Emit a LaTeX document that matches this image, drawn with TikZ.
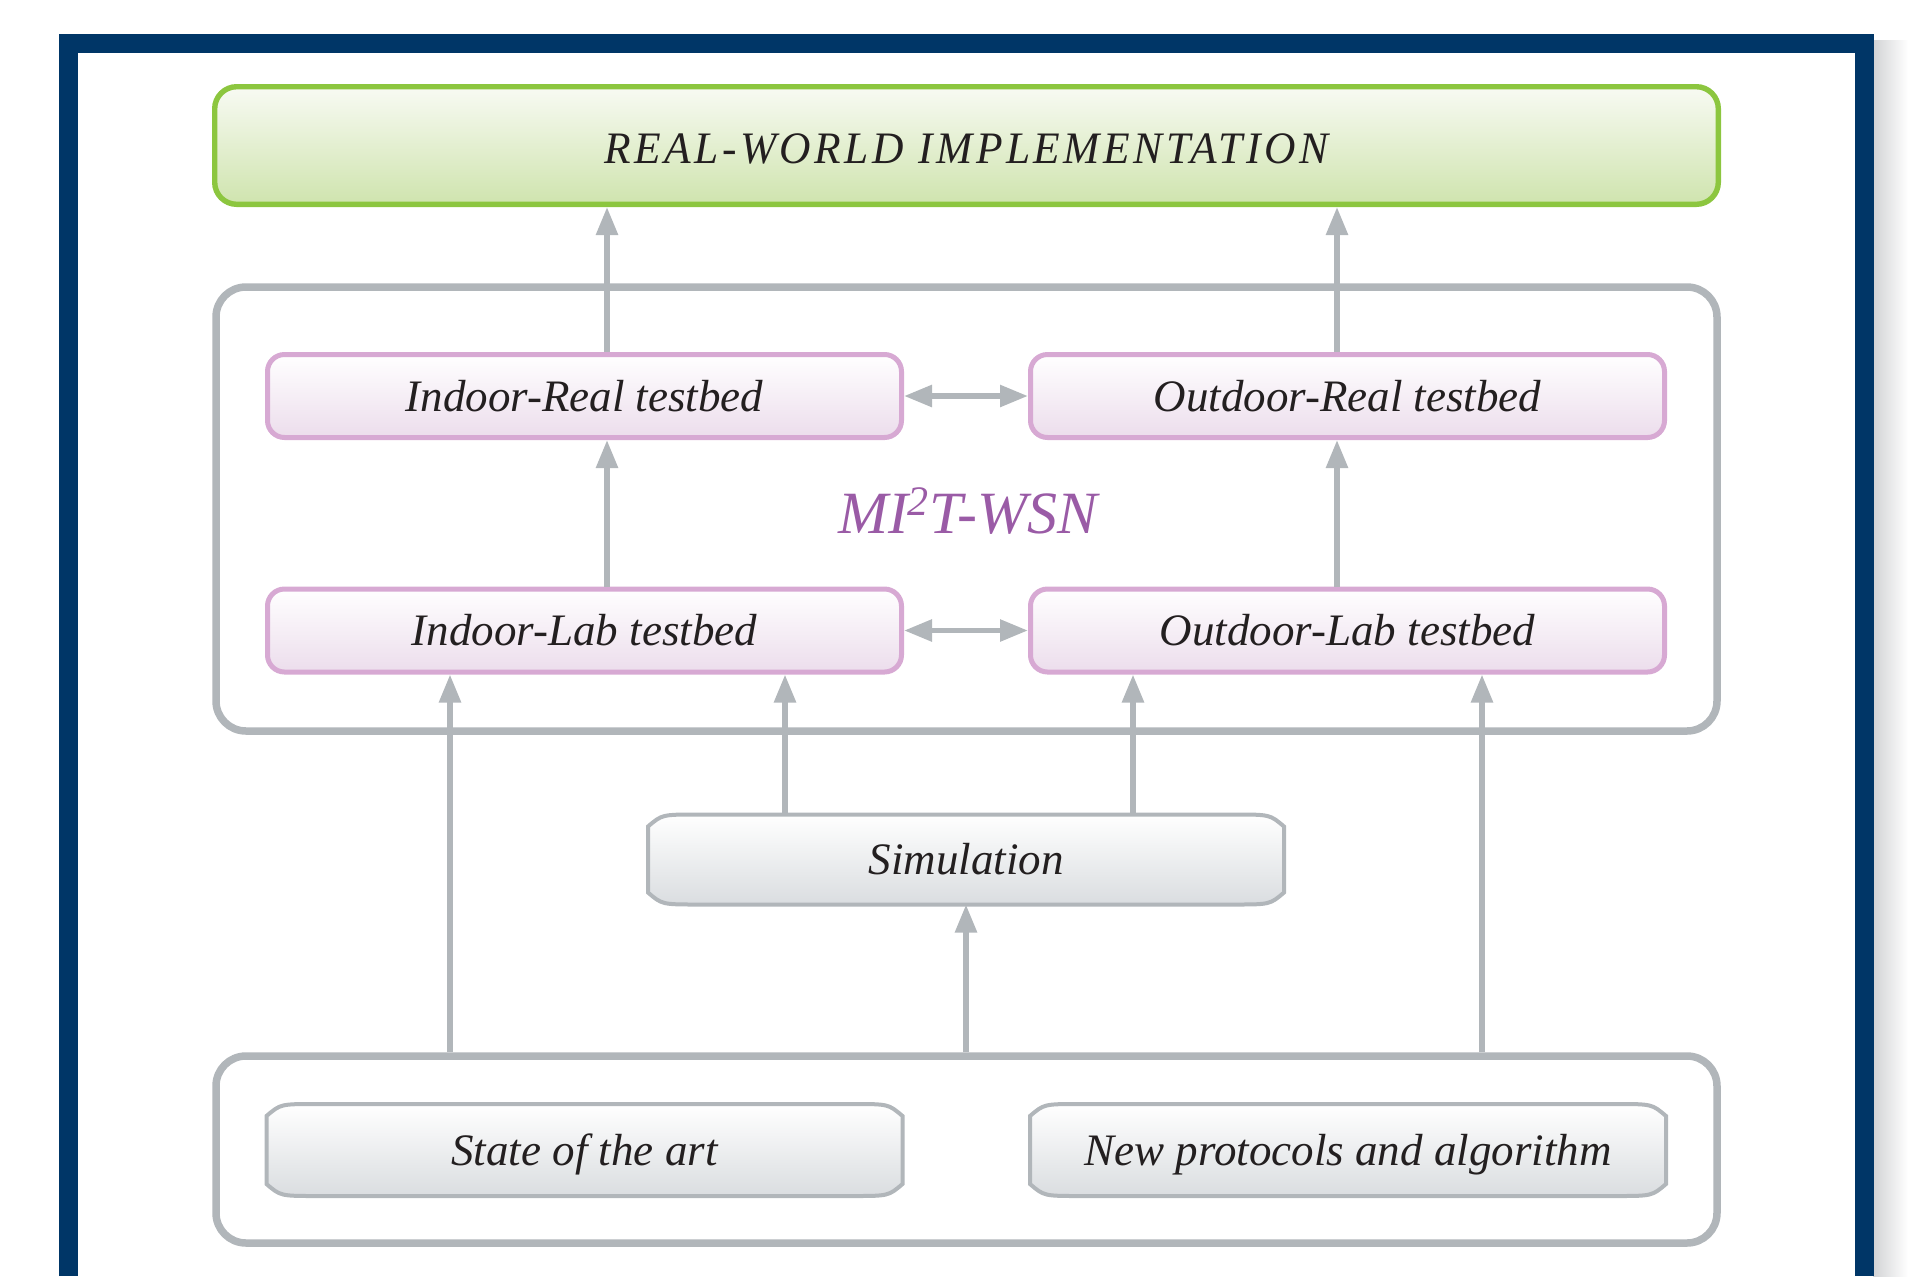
\documentclass[tikz,border=0pt]{standalone}
\usepackage{graphicx}
\usepackage{fontspec}
\setmainfont{Liberation Serif}
\usetikzlibrary{arrows.meta, calc, backgrounds}

\definecolor{framenavy}{HTML}{003667}
\definecolor{shadowgray}{HTML}{D2D3D5}
\definecolor{linegray}{HTML}{B1B6BA}
\definecolor{fillgray}{HTML}{DADDE0}
\definecolor{leafgreen}{HTML}{8CC63F}
\definecolor{greentop}{HTML}{F8FAF3}
\definecolor{greenbottom}{HTML}{CFE4AE}
\definecolor{pinkline}{HTML}{D7A9D3}
\definecolor{pinkbottom}{HTML}{ECDDEC}
\definecolor{wsnpurple}{HTML}{9A5BA6}
\definecolor{inkblack}{HTML}{231F20}

\tikzset{
  boxtext/.style={font=\fontsize{22.5}{27}\selectfont\itshape, text=inkblack, text height=15pt, text depth=0pt},
  realbox/.style={boxtext, draw=leafgreen, line width=2.7pt, rounded corners=11pt, top color=greentop, bottom color=greenbottom, minimum width=751.8pt, minimum height=58.8pt, text height=17.5pt},
  testbed/.style={boxtext, draw=pinkline, line width=2.5pt, rounded corners=8.5pt, top color=white, bottom color=pinkbottom, minimum width=317pt, minimum height=41.5pt},
  holder/.style={draw=linegray, line width=3.75pt, rounded corners=15pt, minimum width=750.5pt},
  scrollbox/.style={boxtext, minimum width=318pt, minimum height=45pt, outer sep=0pt},
  scrollshape/.style={draw=linegray, line width=2pt, top color=white, bottom color=fillgray},
  flow/.style={draw=linegray, line width=2.8pt, -{Triangle[length=14pt,width=10.5pt]}},
  twoway/.style={flow, {Triangle[length=14pt,width=10.5pt]}-{Triangle[length=14pt,width=10.5pt]}},
}

% outline of the boxes with bent corners
\newcommand{\scrollline}[1]{%
  \begin{scope}[on background layer]
    \path[scrollshape] ([yshift=-6pt]#1.north west) .. controls ([xshift=7pt]#1.north west) .. ([xshift=25pt]#1.north west)
      -- ([xshift=-25pt]#1.north east) .. controls ([xshift=-7pt]#1.north east) .. ([yshift=-6pt]#1.north east)
      -- ([yshift=6pt]#1.south east) .. controls ([xshift=-7pt]#1.south east) .. ([xshift=-25pt]#1.south east)
      -- ([xshift=25pt]#1.south west) .. controls ([xshift=7pt]#1.south west) .. ([yshift=6pt]#1.south west) -- cycle;
  \end{scope}}

\begin{document}
\begin{tikzpicture}[x=0.5pt, y=-0.5pt]
    \useasboundingbox (0,0) rectangle (1908,1276);

    % frame
    \fill[left color=shadowgray, right color=white] (1873,40) rectangle (1908,1276);
    \draw[framenavy, line width=9.5pt] (68.5,1276) -- (68.5,43.5) -- (1864,43.5) -- (1864,1276);

    \node[realbox] (rw) at (966.5,145.5) {\resizebox{362pt}{\height}{\addfontfeature{LetterSpace=8}REAL-WORLD IMPLEMENTATION}};

    \node[holder, minimum height=222pt] (wsn) at (966.5,509) {};
    \node[holder, minimum height=93.5pt] (base) at (966.5,1149.5) {};
    \node[text=wsnpurple, font=\fontsize{30}{36}\selectfont\itshape] (wsnlabel) at (968,511) {MI\kern-0.5pt\textsuperscript{2}T-WSN};

    % testbeds
    \node[testbed] (ir) at (584.5,396) {Indoor-Real testbed};
    \node[testbed] (or) at (1347.5,396) {Outdoor-Real testbed};
    \node[testbed] (il) at (584.5,630.5) {Indoor-Lab testbed};
    \node[testbed] (ol) at (1347.5,630.5) {Outdoor-Lab testbed};

    \node[scrollbox] (sim) at (966,859.5) {Simulation};
    \node[scrollbox, minimum height=46pt] (sota) at (584.5,1150) {State of the art};
    \node[scrollbox, minimum height=46pt] (newp) at (1348,1150) {New protocols and algorithm};
    \scrollline{sim}
    \scrollline{sota}
    \scrollline{newp}

    % arrows
    \draw[flow] ([xshift=11.25pt]ir.north) -- ([xshift=11.25pt]ir.north |- rw.south);
    \draw[flow] ([xshift=-5.25pt]or.north) -- ([xshift=-5.25pt]or.north |- rw.south);
    \draw[flow] ([xshift=11.25pt]il.north) -- ([xshift=11.25pt]ir.south);
    \draw[flow] ([xshift=-5.25pt]ol.north) -- ([xshift=-5.25pt]or.south);
    \draw[twoway] (ir) -- (or);
    \draw[twoway] (il) -- (ol);

    \draw[flow] ([xshift=-67.25pt]il.south |- base.north) -- ([xshift=-67.25pt]il.south);
    \draw[flow] ([xshift=100.25pt]il.south |- sim.north) -- ([xshift=100.25pt]il.south);
    \draw[flow] ([xshift=-107.25pt]ol.south |- sim.north) -- ([xshift=-107.25pt]ol.south);
    \draw[flow] ([xshift=67.25pt]ol.south |- base.north) -- ([xshift=67.25pt]ol.south);
    \draw[flow] (sim.south |- base.north) -- (sim.south);
\end{tikzpicture}
\end{document}
